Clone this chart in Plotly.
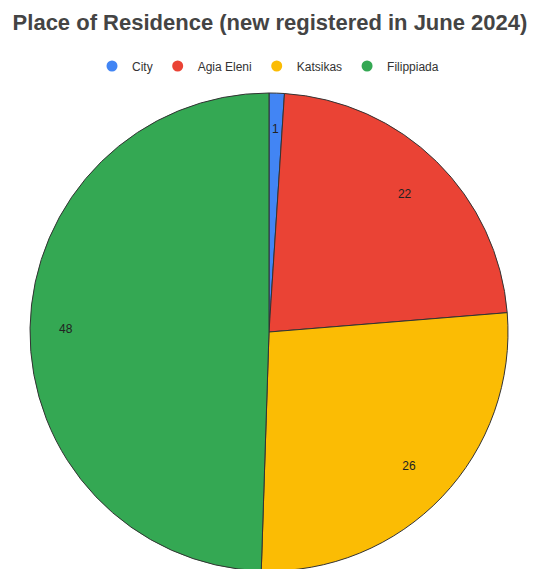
import plotly.graph_objects as go

categories = ["City", "Agia Eleni", "Katsikas", "Filippiada"]
values = [1, 22, 26, 48]
colors = ["#4285F4", "#EA4335", "#FBBC04", "#34A853"]
title_text = "Place of Residence (new registered in June 2024)"

# page body has an 8px margin, so figure coords = window coords - 8
W, H = 532, 569
cx, cy, R = 261, 324, 239
FONT = "Arial, Liberation Sans, sans-serif"


def dom(radius):
    return dict(x=[(cx - radius) / W, (cx + radius) / W],
                y=[1 - (cy + radius) / H, 1 - (cy - radius) / H])


fig = go.Figure()
# main pie
fig.add_trace(go.Pie(
    labels=categories, values=values, sort=False, direction="clockwise",
    rotation=0, marker=dict(colors=colors, line=dict(color="#333333", width=1)),
    textinfo="none", showlegend=False, hoverinfo="label+value",
    domain=dom(R),
))
# transparent pies used only to place the value labels
label_specs = [
    (R, 0.62, ["", "%{value}", "%{value}", ""]),
    (R, 0.70, ["", "", "", "%{value}"]),
    (210, 0.0, ["%{value}", "", "", ""]),
]
for radius, hole, tmpl in label_specs:
    fig.add_trace(go.Pie(
        labels=categories, values=values, sort=False, direction="clockwise",
        rotation=0, hole=hole,
        marker=dict(colors=["rgba(0,0,0,0)"] * len(values), line=dict(width=0)),
        texttemplate=tmpl, textposition="inside", insidetextorientation="horizontal",
        textfont=dict(color="#222222", size=12, family=FONT),
        showlegend=False, hoverinfo="skip",
        domain=dom(radius),
    ))
# legend entries with circle markers
for c, col in zip(categories, colors):
    fig.add_trace(go.Scatter(
        x=[None], y=[None], mode="markers", name=c,
        marker=dict(color=col, size=11, symbol="circle"),
        showlegend=True,
    ))

fig.update_layout(
    width=W, height=H,
    margin=dict(l=0, r=0, t=0, b=0),
    paper_bgcolor="white", plot_bgcolor="white",
    uniformtext=dict(minsize=12, mode="show"),
    title=dict(text="<b>" + title_text + "</b>", x=(270 - 8) / W, xanchor="center",
               y=1 - 14 / H, yanchor="middle",
               font=dict(family=FONT, size=22, color="#444444")),
    legend=dict(orientation="h", x=(268 - 8) / W, xanchor="center", y=1 - 58 / H, yanchor="middle",
                font=dict(family=FONT, size=12, color="#333333"),
                itemwidth=30, tracegroupgap=0),
    xaxis=dict(visible=False), yaxis=dict(visible=False),
)

fig.write_html("out.html")
